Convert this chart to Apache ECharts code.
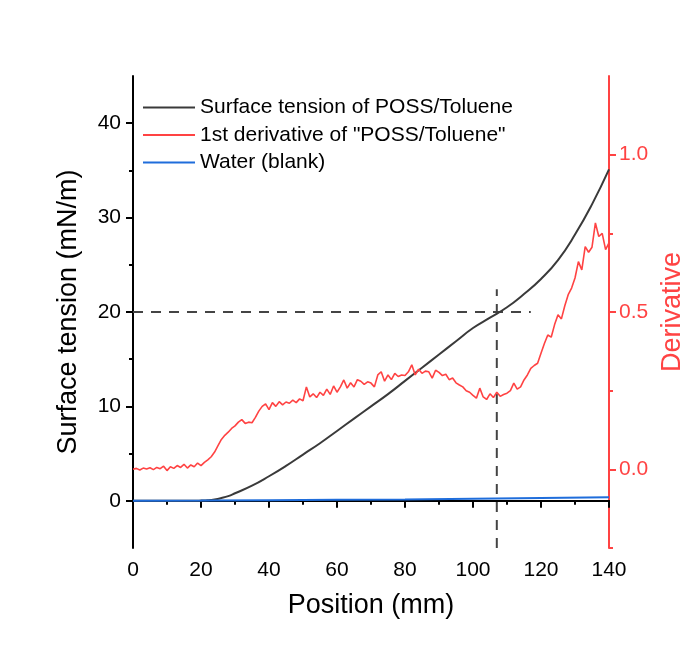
<!DOCTYPE html>
<html>
<head>
<meta charset="utf-8">
<script src="https://cdn.jsdelivr.net/npm/echarts@6/dist/echarts.min.js"></script>
<style>
  html, body { margin: 0; padding: 0; background: #ffffff; }
  #chart { width: 691px; height: 650px; }
</style>
</head>
<body>
<div id="chart"></div>
<script>
  // surface tension (mN/m), read at these positions (mm)
  var tensionPos = [0, 10, 18, 20, 22, 24, 26, 28, 30, 35, 40, 45, 50, 55, 60, 65, 70, 75, 80, 85, 90, 95, 100, 105, 110, 115, 120, 125, 130, 135, 140];
  var tensionVal = [0, 0, 0, 0.02, 0.06, 0.15, 0.3, 0.5, 0.8, 1.6, 2.6, 3.7, 4.9, 6.1, 7.4, 8.7, 10.0, 11.3, 12.7, 14.1, 15.5, 16.9, 18.3, 19.4, 20.5, 21.9, 23.5, 25.5, 28.2, 31.4, 35.1];

  // 1st derivative, one value per mm from 0 to 140
  var derivVal = [
    0.000, 0.003, -0.002, 0.004, 0.001, 0.005, -0.001, 0.006, 0.002, 0.010,
    -0.004, 0.008, 0.003, 0.012, 0.006, 0.016, 0.004, 0.014, 0.008, 0.020,
    0.012, 0.022, 0.030, 0.040, 0.055, 0.075, 0.095, 0.108, 0.118, 0.130,
    0.138, 0.150, 0.158, 0.146, 0.150, 0.148, 0.165, 0.185, 0.200, 0.208,
    0.190, 0.212, 0.200, 0.215, 0.205, 0.214, 0.210, 0.220, 0.212, 0.224,
    0.218, 0.262, 0.230, 0.240, 0.228, 0.245, 0.235, 0.255, 0.238, 0.265,
    0.245, 0.262, 0.284, 0.258, 0.275, 0.262, 0.285, 0.280, 0.270, 0.278,
    0.274, 0.262, 0.300, 0.310, 0.280, 0.300, 0.285, 0.305, 0.295, 0.300,
    0.298, 0.310, 0.332, 0.300, 0.318, 0.305, 0.312, 0.310, 0.290, 0.315,
    0.308, 0.298, 0.302, 0.285, 0.290, 0.275, 0.268, 0.262, 0.250, 0.245,
    0.235, 0.226, 0.258, 0.230, 0.222, 0.240, 0.228, 0.245, 0.232, 0.238,
    0.242, 0.250, 0.274, 0.255, 0.262, 0.284, 0.300, 0.321, 0.330, 0.337,
    0.369, 0.400, 0.427, 0.420, 0.460, 0.491, 0.478, 0.520, 0.555, 0.576,
    0.608, 0.660, 0.634, 0.708, 0.690, 0.706, 0.783, 0.740, 0.750, 0.698,
    0.720
  ];

  // water blank
  var waterPos = [0, 20, 40, 60, 80, 100, 120, 140];
  var waterVal = [0, 0.02, 0.05, 0.1, 0.15, 0.22, 0.3, 0.38];

  // guide lines (dashed)
  var guideH = [[0, 20], [117, 20]];
  var guideV = [[107, -5], [107, 22.4]];

  var leftTicks = [0, 10, 20, 30, 40];
  var leftMinor = [5, 15, 25, 35];
  var rightTicks = [0, 0.5, 1.0];
  var rightMinor = [-0.25, 0.25, 0.75];

  var seriesNames = ['Surface tension of POSS/Toluene', '1st derivative of "POSS/Toluene"', 'Water (blank)'];

  function pairs(xs, ys) {
    var out = [];
    for (var i = 0; i < xs.length; i++) out.push([xs[i], ys[i]]);
    return out;
  }
  var derivData = derivVal.map(function (v, i) { return [i, v]; });

  var font = 'Liberation Sans, Arial, sans-serif';
  var red = '#ff4343';

  var myChart = echarts.init(document.getElementById('chart'));

  myChart.setOption({
    backgroundColor: '#ffffff',
    animation: false,
    grid: { left: 133, right: 82, top: 76, bottom: 102, outerBoundsMode: 'none' },
    legend: {
      data: seriesNames,
      orient: 'vertical',
      left: 143,
      top: 97,
      padding: 0,
      icon: 'rect',
      itemWidth: 52,
      itemHeight: 2,
      itemGap: 6.5,
      textStyle: { fontFamily: font, fontSize: 21, color: '#000' }
    },
    xAxis: [
      {
        type: 'value', min: 0, max: 140, interval: 20,
        name: 'Position (mm)', nameLocation: 'middle', nameGap: 44,
        nameTextStyle: { fontFamily: font, fontSize: 27, color: '#000' },
        axisLine: { lineStyle: { color: '#000', width: 2 } },
        axisTick: { length: 7, lineStyle: { color: '#000', width: 2 } },
        minorTick: { show: true, splitNumber: 2, length: 4, lineStyle: { color: '#000', width: 2 } },
        axisLabel: { fontFamily: font, fontSize: 21, color: '#000', margin: 12 },
        splitLine: { show: false }
      },
      {
        type: 'value', min: 0, max: 140, position: 'top',
        axisLine: { lineStyle: { color: '#000', width: 2 } },
        axisTick: { show: false }, axisLabel: { show: false }, splitLine: { show: false }
      }
    ],
    yAxis: [
      {
        type: 'value', min: -5, max: 45, position: 'left',
        name: 'Surface tension (mN/m)', nameLocation: 'middle', nameGap: 51,
        nameTextStyle: { fontFamily: font, fontSize: 27, color: '#000' },
        axisLine: { show: true, lineStyle: { color: '#000', width: 2 } },
        axisTick: { show: true, customValues: leftTicks, length: 7, lineStyle: { color: '#000', width: 2 } },
        axisLabel: { customValues: leftTicks, fontFamily: font, fontSize: 21, color: '#000', margin: 12 },
        splitLine: { show: false }
      },
      {
        type: 'value', min: -5, max: 45, position: 'left', offset: 0,
        axisLine: { show: false },
        axisTick: { show: true, customValues: leftMinor, length: 4, lineStyle: { color: '#000', width: 2 } },
        axisLabel: { show: false },
        splitLine: { show: false }
      },
      {
        type: 'value', min: -0.25, max: 1.25, position: 'right',
        name: 'Derivative', nameLocation: 'middle', nameGap: 45,
        nameTextStyle: { fontFamily: font, fontSize: 27, color: red },
        axisLine: { show: true, lineStyle: { color: red, width: 2 } },
        axisTick: { show: true, customValues: rightTicks, length: 7, lineStyle: { color: red, width: 2 } },
        axisLabel: {
          customValues: rightTicks, fontFamily: font, fontSize: 21, color: red, margin: 10,
          formatter: function (v) { return v.toFixed(1); }
        },
        splitLine: { show: false }
      },
      {
        type: 'value', min: -0.25, max: 1.25, position: 'right', offset: 0,
        axisLine: { show: false },
        axisTick: { show: true, customValues: rightMinor, length: 4, lineStyle: { color: red, width: 2 } },
        axisLabel: { show: false },
        splitLine: { show: false }
      }
    ],
    series: [
      {
        name: 'guideH', type: 'line', yAxisIndex: 0, data: guideH,
        symbol: 'none', silent: true,
        lineStyle: { color: '#444', width: 2, type: [10, 8] }
      },
      {
        name: 'guideV', type: 'line', yAxisIndex: 0, data: guideV,
        symbol: 'none', silent: true,
        lineStyle: { color: '#444', width: 2, type: [10, 8] }
      },
      {
        name: seriesNames[0], type: 'line', yAxisIndex: 0,
        data: pairs(tensionPos, tensionVal),
        symbol: 'none', smooth: true,
        itemStyle: { color: '#3a3a3a' },
        lineStyle: { color: '#3a3a3a', width: 2 }
      },
      {
        name: seriesNames[1], type: 'line', yAxisIndex: 2,
        data: derivData,
        symbol: 'none',
        itemStyle: { color: red },
        lineStyle: { color: red, width: 1.6 }
      },
      {
        name: seriesNames[2], type: 'line', yAxisIndex: 0,
        data: pairs(waterPos, waterVal),
        symbol: 'none',
        itemStyle: { color: '#1f6ddb' },
        lineStyle: { color: '#1f6ddb', width: 2 }
      }
    ]
  });
</script>
</body>
</html>
